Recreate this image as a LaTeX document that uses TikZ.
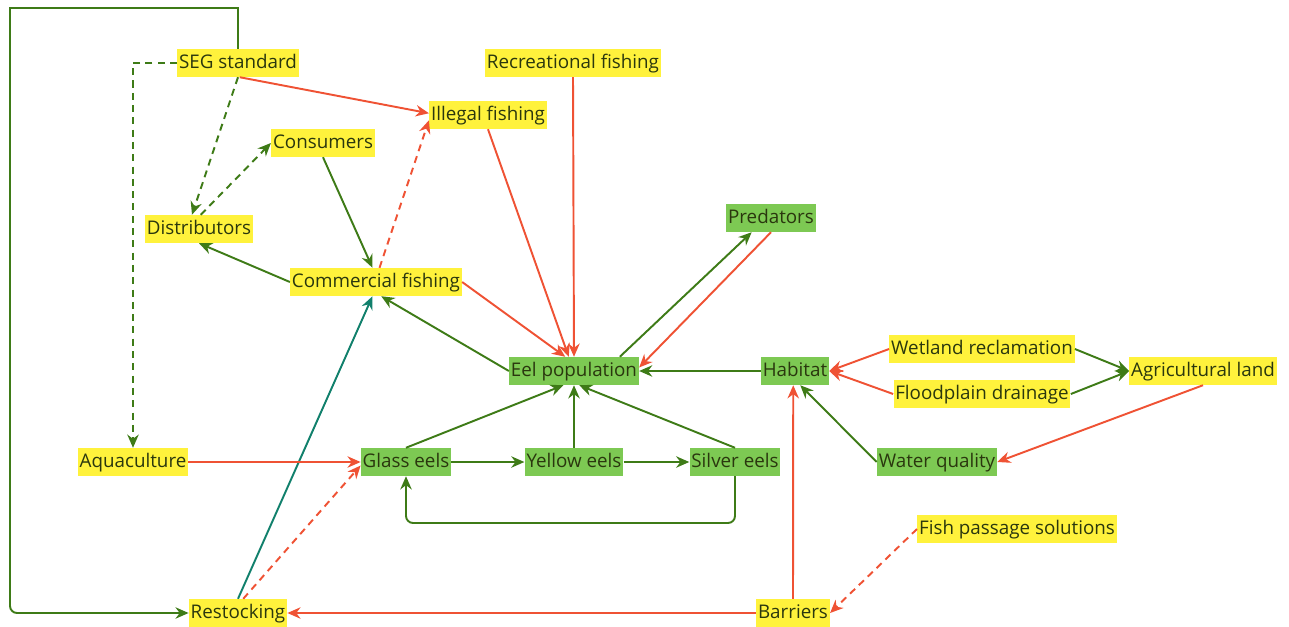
\documentclass[tikz,border=0pt]{standalone}
\usepackage{fontspec}
\setmainfont{Open Sans}
\usetikzlibrary{arrows.meta}

\definecolor{boxyellow}{HTML}{FFF23C}
\definecolor{boxgreen}{HTML}{7DC953}
\definecolor{txtdark}{HTML}{2A370E}
\definecolor{linkgreen}{HTML}{3E7B17}
\definecolor{linkred}{HTML}{EF5234}
\definecolor{linkteal}{HTML}{11806C}

\tikzset{
  factor/.style={fill=boxyellow, text=txtdark, inner xsep=1pt, inner ysep=2.4pt,
    text height=8.4pt, text depth=2.6pt, font=\fontsize{10.7pt}{12pt}\selectfont},
  stage/.style={factor, fill=boxgreen},
  poslink/.style={draw=linkgreen, line width=1.1pt, -{Stealth[length=7.5pt,width=6.5pt]}},
  neglink/.style={draw=linkred, line width=1.1pt, -{Stealth[length=7.5pt,width=6.5pt]}},
  maybe/.style={dash pattern=on 4pt off 3pt}
}

\begin{document}
\begin{tikzpicture}[x=0.02cm, y=-0.02cm]
            \useasboundingbox (0,0) rectangle (1289,626);
            % drivers and management
            \node[factor] (seg_standard) at (238,63) {SEG standard};
            \node[factor] (rec_fishing) at (573,63) {Recreational fishing};
            \node[factor] (illegal_fishing) at (488,115) {Illegal fishing};
            \node[factor] (consumers) at (323,143) {Consumers};
            \node[factor] (distributors) at (199,229) {Distributors};
            \node[factor] (comm_fishing) at (376,282) {Commercial fishing};
            \node[factor] (aquaculture) at (133,462) {Aquaculture};
            \node[factor] (restocking) at (238,613) {Restocking};
            \node[factor] (barriers) at (793,613) {Barriers};
            \node[factor] (fish_passage) at (1017,529) {Fish passage solutions};
            \node[factor] (wetland) at (982,349) {Wetland reclamation};
            \node[factor] (floodplain) at (982,394) {Floodplain drainage};
            \node[factor] (agri_land) at (1203,371) {Agricultural land};
            % eel system
            \node[stage] (predators) at (771,218) {Predators};
            \node[stage] (eel_population) at (574,371) {Eel population};
            \node[stage] (habitat) at (795,371) {Habitat};
            \node[stage] (water_quality) at (937,462) {Water quality};
            \node[stage] (glass_eels) at (406,462) {Glass eels};
            \node[stage] (yellow_eels) at (574,462) {Yellow eels};
            \node[stage] (silver_eels) at (735,462) {Silver eels};
            \coordinate (loop_top) at (10,8);
            \coordinate (cycle_low) at (735,523);

            \draw[poslink] (seg_standard.north) |- (loop_top) -- (10,606) [rounded corners=4pt] |- (restocking.west);
            \draw[poslink, maybe] (seg_standard.west) -| (aquaculture.north);
            \draw[poslink, maybe] (seg_standard.south) -- ([xshift=-4pt]distributors.north);
            \draw[poslink, maybe] ([xshift=1pt]distributors.north) -- (consumers.west);
            \draw[poslink] (consumers.south) -- ([xshift=-2pt]comm_fishing.north);
            \draw[poslink] (comm_fishing.west) -- (distributors.south);
            \draw[poslink] (eel_population.west) -- ([xshift=3pt]comm_fishing.south);
            \draw[poslink, draw=linkteal] (restocking.north) -- ([xshift=-2pt]comm_fishing.south);
            \draw[poslink] ([xshift=-11pt]eel_population.north east) -- ([xshift=-11pt]predators.south);
            \draw[poslink] (habitat.west) -- (eel_population.east);
            \draw[poslink] (wetland.east) -- (agri_land.west);
            \draw[poslink] (floodplain.east) -- (agri_land.west);
            \draw[poslink] (water_quality.west) -- ([xshift=3pt]habitat.south);
            \draw[poslink] (glass_eels.north) -- ([xshift=-6pt]eel_population.south);
            \draw[poslink] (yellow_eels.north) -- (eel_population.south);
            \draw[poslink] (silver_eels.north) -- ([xshift=3pt]eel_population.south);
            \draw[poslink] (glass_eels.east) -- (yellow_eels.west);
            \draw[poslink] (yellow_eels.east) -- (silver_eels.west);
            \draw[poslink, rounded corners=4pt] (silver_eels.south) -- (cycle_low) -| (glass_eels.south);

            \draw[neglink] ([xshift=1pt]seg_standard.south) -- ([yshift=1pt]illegal_fishing.west);
            \draw[neglink, maybe] ([xshift=2pt]comm_fishing.north) -- ([yshift=-3pt]illegal_fishing.west);
            \draw[neglink] (illegal_fishing.south) -- ([xshift=-3pt]eel_population.north);
            \draw[neglink] (rec_fishing.south) -- (eel_population.north);
            \draw[neglink] (comm_fishing.east) -- ([xshift=-5pt]eel_population.north);
            \draw[neglink] (predators.south) -- ([yshift=2pt]eel_population.east);
            \draw[neglink] (wetland.west) -- (habitat.east);
            \draw[neglink] (floodplain.west) -- (habitat.east);
            \draw[neglink] (agri_land.south) -- (water_quality.east);
            \draw[neglink] (aquaculture.east) -- (glass_eels.west);
            \draw[neglink, maybe] ([xshift=3pt]restocking.north) -- ([yshift=-2pt]glass_eels.west);
            \draw[neglink] (barriers.north) -- ([xshift=-1pt]habitat.south);
            \draw[neglink] (barriers.west) -- (restocking.east);
            \draw[neglink, maybe] (fish_passage.west) -- (barriers.east);
        \end{tikzpicture}
\end{document}
